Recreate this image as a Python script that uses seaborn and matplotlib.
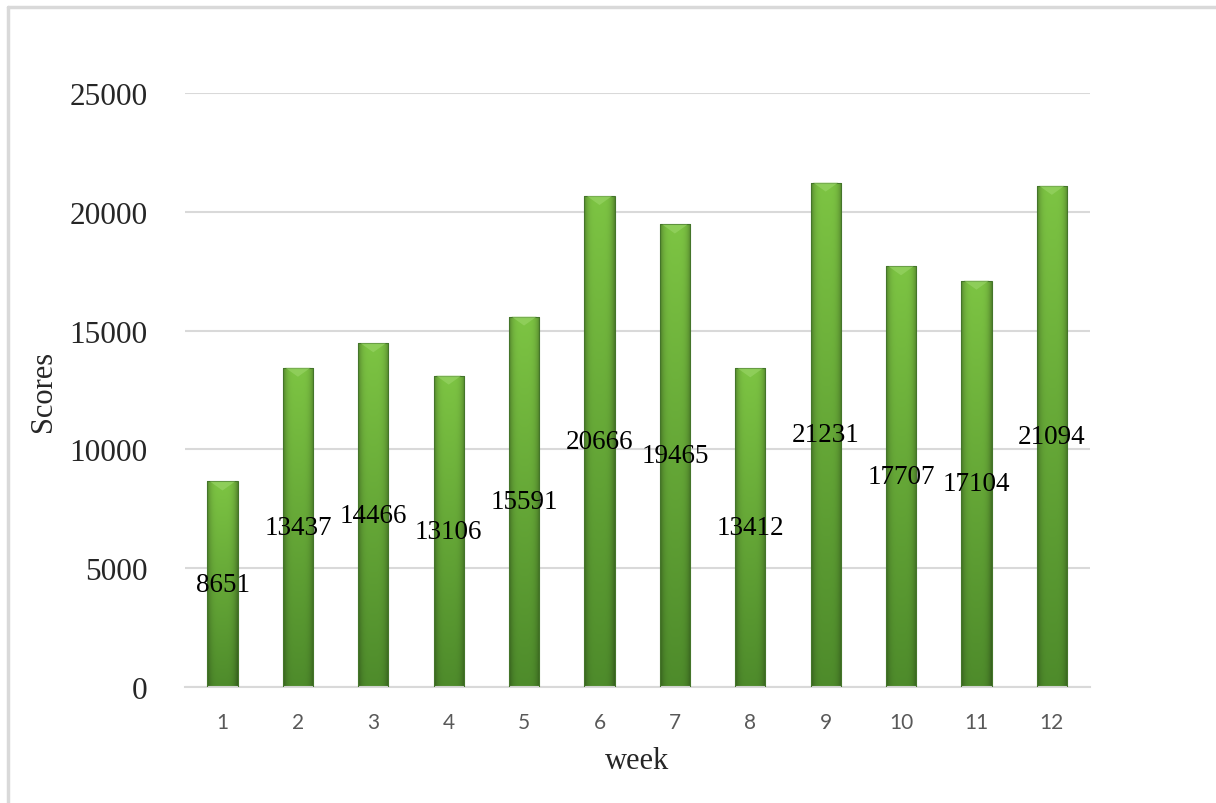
import numpy as np
import pandas as pd
import matplotlib
matplotlib.use("Agg")
import matplotlib.pyplot as plt
import seaborn as sns
from matplotlib.colors import to_rgb

# Data
weeks = ["1", "2", "3", "4", "5", "6", "7", "8", "9", "10", "11", "12"]
scores = [8651, 13437, 14466, 13106, 15591, 20666, 19465, 13412, 21231, 17707, 17104, 21094]
y_ticks = [0, 5000, 10000, 15000, 20000, 25000]

df = pd.DataFrame({"week": weeks, "Scores": scores})

sns.set_theme(style="white")
plt.rcParams["font.family"] = ["Liberation Serif", "DejaVu Serif"]

fig = plt.figure(figsize=(12.16, 8.04), dpi=100)
ax = fig.add_axes([0.152, 0.1443, 0.744, 0.7388])

sns.barplot(data=df, x="week", y="Scores", color="#5fa032", width=0.40,
            saturation=1, ax=ax, zorder=3)

# gradient fill for the "cylinder" look
top_c = np.array(to_rgb("#7dc443"))
bot_c = np.array(to_rgb("#4e8b2b"))
nv, nh = 200, 60
tv = np.linspace(0, 1, nv)[:, None, None]
vert = top_c * (1 - tv) + bot_c * tv
h = np.linspace(-1, 1, nh)
shade = 1 - 0.32 * np.abs(h) ** 4
img = np.clip(vert * shade[None, :, None], 0, 1)

for p in ax.patches:
    x0, w, hgt = p.get_x(), p.get_width(), p.get_height()
    p.set_facecolor("none")
    p.set_edgecolor("#44752a")
    p.set_linewidth(0.8)
    im = ax.imshow(img, extent=[x0, x0 + w, 0, hgt], aspect="auto",
                   origin="upper", zorder=2.5, interpolation="bilinear")
    im.set_clip_path(p)
    # light bevel triangle at the top
    ax.fill([x0 + w * 0.08, x0 + w * 0.92, x0 + w * 0.5],
            [hgt, hgt, hgt - 380], color="#9bd66a", alpha=0.6, zorder=3.2, lw=0)

for i, v in enumerate(scores):
    ax.text(i, v / 2, str(v), ha="center", va="center", fontsize=19.5,
            color="black", zorder=4, family=["Liberation Serif"])

ax.set_ylim(0, 25000)
ax.set_xlim(-0.5, len(weeks) - 0.5)
ax.set_yticks(y_ticks)
ax.set_yticklabels([str(t) for t in y_ticks], fontsize=22.5, family=["Liberation Serif"])
ax.set_xticks(range(len(weeks)))
ax.set_xticklabels(weeks, fontsize=15, color="#595959", family=["Lato", "DejaVu Sans"])
ax.tick_params(axis="y", length=0, pad=27)
ax.tick_params(axis="x", length=0, pad=18)

ax.yaxis.grid(True, color="#d9d9d9", linewidth=1.5, zorder=0)
ax.set_axisbelow(True)
for s in ["left", "right", "top"]:
    ax.spines[s].set_visible(False)
ax.spines["bottom"].set_color("#d9d9d9")
ax.spines["bottom"].set_linewidth(1.5)

ax.set_xlabel("week", fontsize=22, labelpad=10)
ax.set_ylabel("Scores", fontsize=22)
ax.yaxis.set_label_coords(-0.14, 0.5)

# light frame around the chart area (left/top visible)
fig.add_artist(plt.Line2D([0.0069, 0.0069], [0.0, 0.99], color="#d9d9d9", lw=2.5,
                          transform=fig.transFigure))
fig.add_artist(plt.Line2D([0.0069, 1.0], [0.99, 0.99], color="#d9d9d9", lw=2.5,
                          transform=fig.transFigure))

fig.savefig("out.png", dpi=100)
